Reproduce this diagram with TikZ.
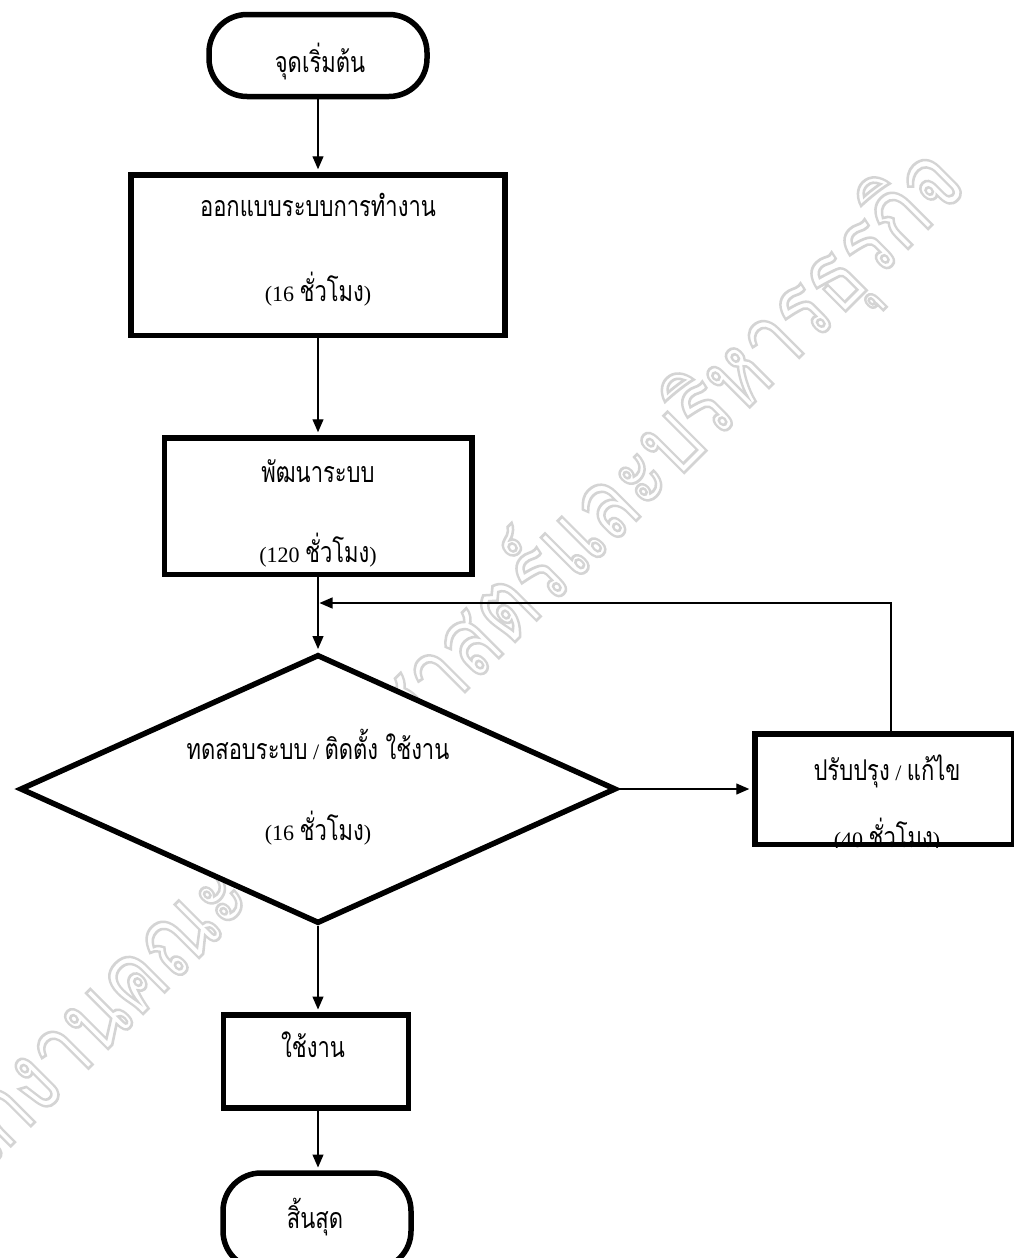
\documentclass[tikz,border=0pt]{standalone}
\usepackage{fontspec}
\setmainfont{Liberation Serif}
\newfontfamily\thai[Script=Thai]{Loma}
\usetikzlibrary{shapes.geometric,arrows.meta}
\newcommand\thx[1]{\scalebox{1}[1.3]{\thai #1}}
\newcommand\hrs[1]{(#1 \thx{ชั่วโมง})}
\begin{document}
\begin{tikzpicture}[x=1pt,y=-1pt,
  box/.style={draw,line width=5.5pt,fill=white,inner sep=0pt,rectangle},
  term/.style={box,rounded corners=38pt},
  dec/.style={draw,line width=5.5pt,fill=white,diamond,inner sep=0pt},
  arr/.style={line width=1.3pt,-{Triangle[length=13pt,width=11pt]},shorten >=2.75pt},
  fbarr/.style={line width=1.3pt,-{Triangle[length=13pt,width=11pt]},shorten >=1.5pt},
  lbl/.style={anchor=base,inner sep=0pt,font=\fontsize{22}{22}\selectfont},
  wm/.style={anchor=east,inner sep=0pt,rotate=45,text=black!17,font=\thai\fontsize{79}{79}\selectfont}]
\useasboundingbox (0,0) rectangle (1013,1258);
\fill[white] (0,0) rectangle (1013,1258);
% watermark
\node[wm] (wm) at (948,166) {\scalebox{1}[1.25]{\special{pdf:literal direct 1 Tr 2.2 w}สำนักงานคณะเศรษฐศาสตร์และบริหารธุรกิจ\special{pdf:literal direct 0 Tr}}};
% shapes
\node[term,minimum width=218pt,minimum height=82pt] (start) at (318,55.5) {};
\node[box,minimum width=374pt,minimum height=160.5pt] (b1) at (318,255) {};
\node[box,minimum width=307.5pt,minimum height=136.5pt] (b2) at (318,506) {};
\node[dec,minimum width=596pt,minimum height=269pt] (d) at (318,789) {};
\node[box,minimum width=258.5pt,minimum height=110.5pt] (b3) at (884,789) {};
\node[box,minimum width=185pt,minimum height=93pt] (b4) at (316,1061.5) {};
\node[term,minimum width=188pt,minimum height=96pt] (end) at (317,1221) {};
% texts
\node[lbl] (t0) at (320,72) {\thx{จุดเริ่มต้น}};
\node[lbl] (t1a) at (318,216) {\thx{ออกแบบระบบการทำงาน}};
\node[lbl] (t1b) at (318,301) {\hrs{16}};
\node[lbl] (t2a) at (318,482) {\thx{พัฒนาระบบ}};
\node[lbl] (t2b) at (318,562) {\hrs{120}};
\node[lbl] (t3a) at (318,759) {\thx{ทดสอบระบบ} / \thx{ติดตั้ง ใช้งาน}};
\node[lbl] (t3b) at (318,840) {\hrs{16}};
\node[lbl] (t4a) at (887,780) {\thx{ปรับปรุง} / \thx{แก้ไข}};
\begin{scope}
\clip (b3.north west) rectangle (b3.south east);
\node[lbl] (t4b) at (887,847) {\hrs{40}};
\end{scope}
\node[lbl] (t5) at (313,1057) {\thx{ใช้งาน}};
\node[lbl] (t6) at (315,1228) {\thx{สิ้นสุด}};
% connectors
\coordinate (j) at (318,603);
\draw[arr] (start.south) -- (b1.north);
\draw[arr] (b1.south) -- (b2.north);
\draw[arr] (b2.south) -- (d.north);
\draw[arr] (d.east) -- (b3.west);
\draw[fbarr] ([xshift=7pt]b3.north) |- (j);
\draw[arr] (d.south) -- (b4.north -| d.south);
\draw[arr] (b4.south -| d.south) -- (end.north -| d.south);
\end{tikzpicture}
\end{document}
